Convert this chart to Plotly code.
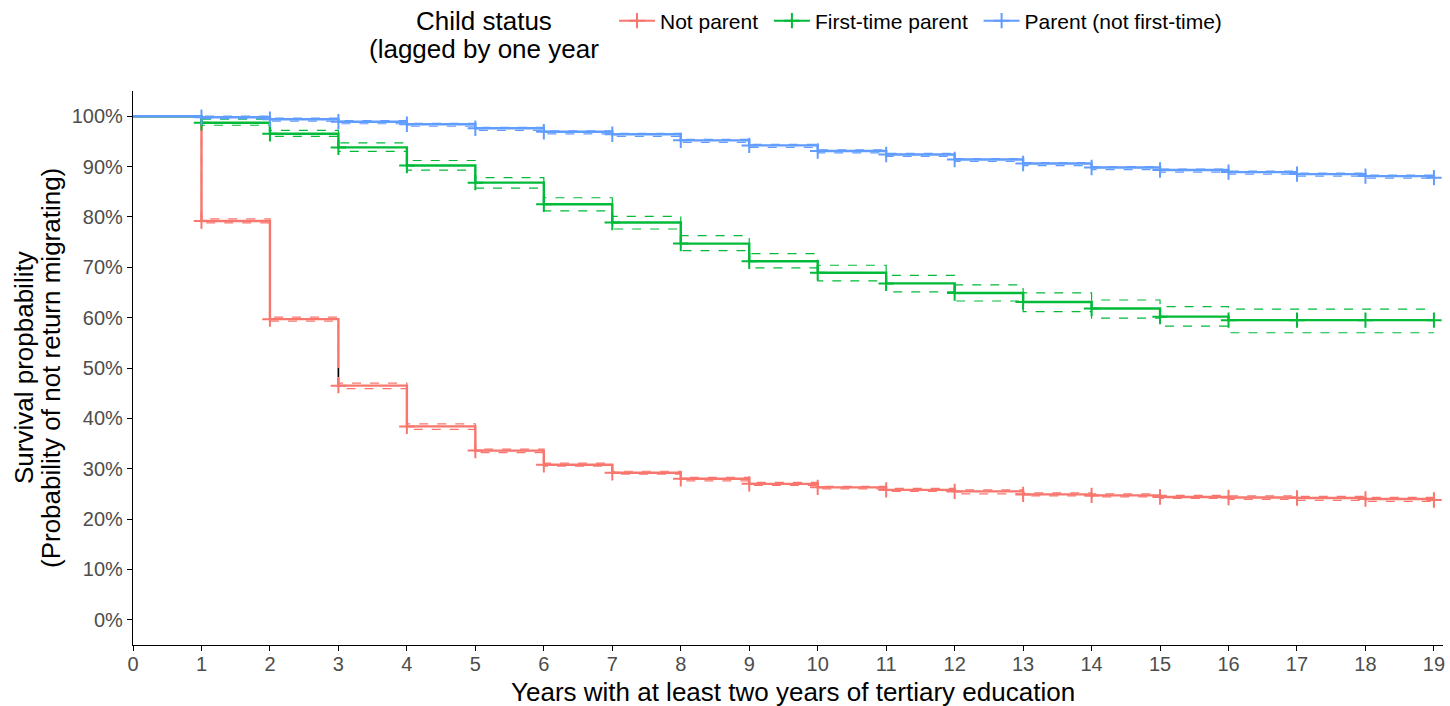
import plotly.graph_objects as go

# ---- data ----
times = list(range(0, 20))
x_ticks = list(range(0, 20))
y_ticks = [0, 0.1, 0.2, 0.3, 0.4, 0.5, 0.6, 0.7, 0.8, 0.9, 1.0]
y_tick_labels = ["0%", "10%", "20%", "30%", "40%", "50%", "60%", "70%", "80%", "90%", "100%"]

groups = ["Not parent", "First-time parent", "Parent (not first-time)"]

surv_not_parent = [1.0, 0.792, 0.597, 0.465, 0.384, 0.336, 0.308, 0.292, 0.280, 0.270,
                   0.263, 0.258, 0.255, 0.249, 0.247, 0.244, 0.243, 0.242, 0.240, 0.238]
lower_not_parent = [1.0, 0.788, 0.593, 0.459, 0.378, 0.332, 0.305, 0.289, 0.276, 0.267,
                    0.260, 0.255, 0.250, 0.246, 0.244, 0.241, 0.239, 0.237, 0.235, 0.234]
upper_not_parent = [1.0, 0.796, 0.601, 0.470, 0.389, 0.339, 0.311, 0.295, 0.283, 0.273,
                    0.265, 0.261, 0.258, 0.252, 0.250, 0.247, 0.246, 0.245, 0.243, 0.241]

surv_first = [1.0, 0.987, 0.965, 0.938, 0.902, 0.868, 0.825, 0.789, 0.747, 0.712,
              0.689, 0.668, 0.649, 0.631, 0.618, 0.602, 0.595, 0.595, 0.595, 0.595]
upper_first = [1.0, 0.994, 0.972, 0.947, 0.912, 0.878, 0.838, 0.801, 0.763, 0.727,
               0.704, 0.684, 0.665, 0.649, 0.635, 0.622, 0.617, 0.617, 0.617, 0.617]
lower_first = [1.0, 0.982, 0.960, 0.930, 0.893, 0.857, 0.812, 0.776, 0.733, 0.699,
               0.673, 0.651, 0.633, 0.612, 0.599, 0.583, 0.570, 0.570, 0.570, 0.570]

surv_parent = [1.0, 0.998, 0.994, 0.989, 0.984, 0.976, 0.969, 0.964, 0.952, 0.942,
               0.931, 0.924, 0.914, 0.906, 0.898, 0.893, 0.889, 0.885, 0.881, 0.878]
upper_parent = [1.0, 1.0, 0.996, 0.991, 0.986, 0.978, 0.971, 0.966, 0.954, 0.944,
                0.933, 0.926, 0.916, 0.908, 0.900, 0.895, 0.891, 0.887, 0.883, 0.880]
lower_parent = [1.0, 0.995, 0.990, 0.985, 0.980, 0.972, 0.965, 0.960, 0.948, 0.938,
                0.927, 0.920, 0.910, 0.902, 0.894, 0.889, 0.885, 0.881, 0.877, 0.874]

median_time = 3
median_level = 0.5

legend_title_lines = ["Child status", "(lagged by one year"]
y_title_lines = ["Survival propbability", "(Probability of not return migrating)"]
x_title = "Years with at least two years of tertiary education"

colors = ["#F8766D", "#00BA38", "#619CFF"]
series = [
    (surv_not_parent, lower_not_parent, upper_not_parent),
    (surv_first, lower_first, upper_first),
    (surv_parent, lower_parent, upper_parent),
]

FONT = "Liberation Sans, Arial, sans-serif"
W, H = 1450, 706
ML, MR, MT, MB = 133, 7, 91, 61
PW, PH = W - ML - MR, H - MT - MB


def px_x(p):
    return (p - ML) / PW


def px_y(p):
    return 1 - (p - MT) / PH


fig = go.Figure()

for name, color, (s, lo, up) in zip(groups, colors, series):
    for band in (lo, up):
        fig.add_trace(go.Scatter(x=times, y=band, mode="lines",
                                 line=dict(color=color, width=1.2, dash="dash", shape="hv"),
                                 showlegend=False, hoverinfo="skip"))
    fig.add_trace(go.Scatter(x=times, y=s, mode="lines", line=dict(color=color, width=2.4, shape="hv"),
                             showlegend=False, name=name))
    fig.add_trace(go.Scatter(x=times[1:], y=s[1:], mode="markers",
                             marker=dict(symbol="cross-thin", size=11, line=dict(color=color, width=2)),
                             showlegend=False, hoverinfo="skip"))

# median line segment
med_surv = surv_not_parent[times.index(median_time)]
fig.add_trace(go.Scatter(x=[median_time, median_time], y=[median_level, med_surv], mode="lines",
                         line=dict(color="black", width=1.2, dash="dash"), showlegend=False, hoverinfo="skip"))

# legend entries
for name, color in zip(groups, colors):
    fig.add_trace(go.Scatter(x=[None], y=[None], mode="lines+markers", name=name + "\u00a0",
                             line=dict(color=color, width=2),
                             marker=dict(symbol="cross-thin", size=11, line=dict(color=color, width=2))))

# legend title (two lines)
for line, ypx in zip(legend_title_lines, [21, 49]):
    fig.add_annotation(text=line, xref="paper", yref="paper", x=px_x(484), y=px_y(ypx),
                       xanchor="center", yanchor="middle", showarrow=False,
                       font=dict(family=FONT, size=26, color="black"))

# y axis title (two lines)
for line, xpx in zip(y_title_lines, [24, 51]):
    fig.add_annotation(text=line, xref="paper", yref="paper", x=px_x(xpx), y=0.5,
                       xanchor="center", yanchor="middle", textangle=-90, showarrow=False,
                       font=dict(family=FONT, size=26, color="black"))

# x axis title
fig.add_annotation(text=x_title, xref="paper", yref="paper", x=px_x(793), y=px_y(692),
                   xanchor="center", yanchor="middle", showarrow=False,
                   font=dict(family=FONT, size=26, color="black"))

fig.update_layout(
    width=W, height=H,
    margin=dict(l=ML, r=MR, t=MT, b=MB, autoexpand=False),
    paper_bgcolor="white", plot_bgcolor="white",
    font=dict(family=FONT),
    legend=dict(orientation="h", x=px_x(614), xanchor="left", y=px_y(21), yanchor="middle",
                font=dict(family=FONT, size=21, color="black"), bgcolor="rgba(0,0,0,0)", itemwidth=36),
    xaxis=dict(range=[0, PW / 68.47], tickvals=x_ticks, ticktext=[str(v) for v in x_ticks],
               showgrid=False, zeroline=False, showline=True, linecolor="black", linewidth=1.2,
               ticks="outside", ticklen=5, tickcolor="black", automargin=False, ticklabelstandoff=-4,
               tickfont=dict(family=FONT, size=20, color="#4D4D4D")),
    yaxis=dict(range=[-0.05, 1.05], tickvals=y_ticks, ticktext=y_tick_labels,
               showgrid=False, zeroline=False, showline=True, linecolor="black", linewidth=1.2,
               ticks="outside", ticklen=5, tickcolor="black", automargin=False,
               tickfont=dict(family=FONT, size=20, color="#4D4D4D")),
)

fig.write_html("out.html", config={"displayModeBar": False},
               post_script="document.body.style.margin='0px';")
